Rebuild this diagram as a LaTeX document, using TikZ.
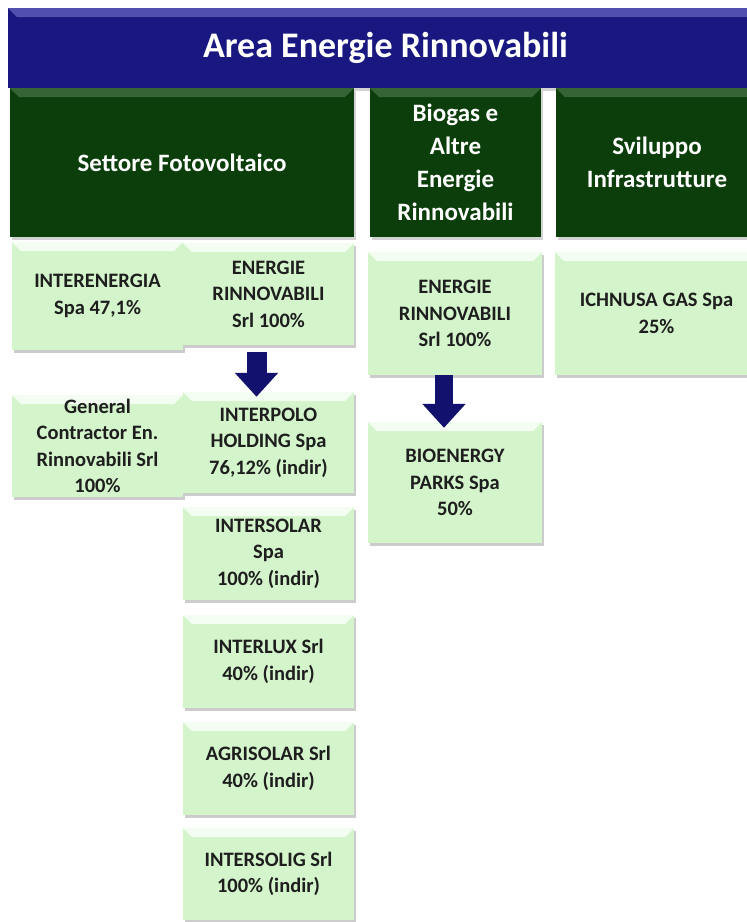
\documentclass[tikz,border=0pt]{standalone}
\usepackage{fontspec}
\setmainfont{Carlito}
\usetikzlibrary{shadows,arrows.meta}
\definecolor{navyband}{RGB}{24,24,128}
\definecolor{navytop}{RGB}{80,80,175}
\definecolor{darkgreen}{RGB}{12,62,12}
\definecolor{greentop}{RGB}{55,100,55}
\definecolor{lightgreen}{RGB}{212,244,203}
\definecolor{lightgreentop}{RGB}{244,253,241}
\definecolor{boxtext}{RGB}{30,30,30}
\definecolor{arrownavy}{RGB}{18,18,110}
\tikzset{
  bevel/.style={path picture={\fill[#1]
    (path picture bounding box.north west) -- (path picture bounding box.north east)
    -- ([xshift=-9pt,yshift=-9pt]path picture bounding box.north east)
    -- ([xshift=9pt,yshift=-9pt]path picture bounding box.north west) -- cycle;}},
  banner/.style={fill=navyband, bevel={navytop}, inner sep=0pt, text=white,
    font=\bfseries\fontsize{36}{40}\selectfont,
    drop shadow={shadow xshift=2pt, shadow yshift=-3pt, opacity=0.35}},
  sector/.style={fill=darkgreen, bevel={greentop}, inner sep=0pt, text=white, align=center,
    font=\bfseries\fontsize{25}{33}\selectfont,
    drop shadow={shadow xshift=2pt, shadow yshift=-3pt, opacity=0.35}},
  company/.style={fill=lightgreen, bevel={lightgreentop}, inner sep=0pt, text=boxtext, align=center,
    font=\bfseries\fontsize{20.5}{26.5}\selectfont,
    drop shadow={shadow xshift=2pt, shadow yshift=-3pt, opacity=0.4}},
  bigarrow/.style={draw=arrownavy, line width=#1,
    -{Triangle[width=42pt,length=24pt]}},
}
\begin{document}
\begin{tikzpicture}[x=1pt,y=-1pt]
\useasboundingbox (0,0) rectangle (747,922);
% banner
\node[banner, minimum width=755pt, minimum height=80pt] (area) at (385.5,48) {Area Energie Rinnovabili};
% sectors
\node[sector, minimum width=344pt, minimum height=149pt] (foto) at (182,162.5) {Settore Fotovoltaico};
\node[sector, minimum width=171pt, minimum height=149pt] (bio) at (455.5,162.5) {Biogas e\\Altre\\Energie\\Rinnovabili};
\node[sector, minimum width=202pt, minimum height=149pt] (svil) at (657,162.5) {Sviluppo\\Infrastrutture};
% photovoltaic column
\node[company, minimum width=171pt, minimum height=108pt] (ie) at (97.5,296) {INTERENERGIA\\Spa 47,1\%};
\node[company, minimum width=171pt, minimum height=102pt] (er1) at (268.5,294) {ENERGIE\\RINNOVABILI\\Srl 100\%};
\node[company, minimum width=171pt, minimum height=102pt] (gc) at (97.5,446) {General\\Contractor En.\\Rinnovabili Srl\\100\%};
\node[company, minimum width=171pt, minimum height=101pt] (ip) at (268.5,442.5) {INTERPOLO\\HOLDING Spa\\76,12\% (indir)};
\node[company, minimum width=171pt, minimum height=93pt] (is) at (268.5,553.5) {INTERSOLAR\\Spa\\100\% (indir)};
\node[company, minimum width=171pt, minimum height=93pt] (il) at (268.5,661.5) {INTERLUX Srl\\40\% (indir)};
\node[company, minimum width=171pt, minimum height=93pt] (ag) at (268.5,768.5) {AGRISOLAR Srl\\40\% (indir)};
\node[company, minimum width=171pt, minimum height=92pt] (isg) at (268.5,874) {INTERSOLIG Srl\\100\% (indir)};
% biogas column
\node[company, minimum width=174pt, minimum height=123pt] (er2) at (455,313.5) {ENERGIE\\RINNOVABILI\\Srl 100\%};
\node[company, minimum width=174pt, minimum height=121pt] (bp) at (455,482.5) {BIOENERGY\\PARKS Spa\\50\%};
% infrastructure column
\node[company, minimum width=203pt, minimum height=123pt] (ich) at (656.5,313.5) {ICHNUSA GAS Spa\\25\%};
% arrows
\draw[bigarrow=20pt] ([xshift=-12pt,yshift=-7pt]er1.south) -- ([xshift=-12pt,yshift=-5pt]ip.north);
\draw[bigarrow=18pt] ([xshift=-11pt]er2.south) -- ([xshift=-11pt,yshift=-6pt]bp.north);
\end{tikzpicture}
\end{document}
